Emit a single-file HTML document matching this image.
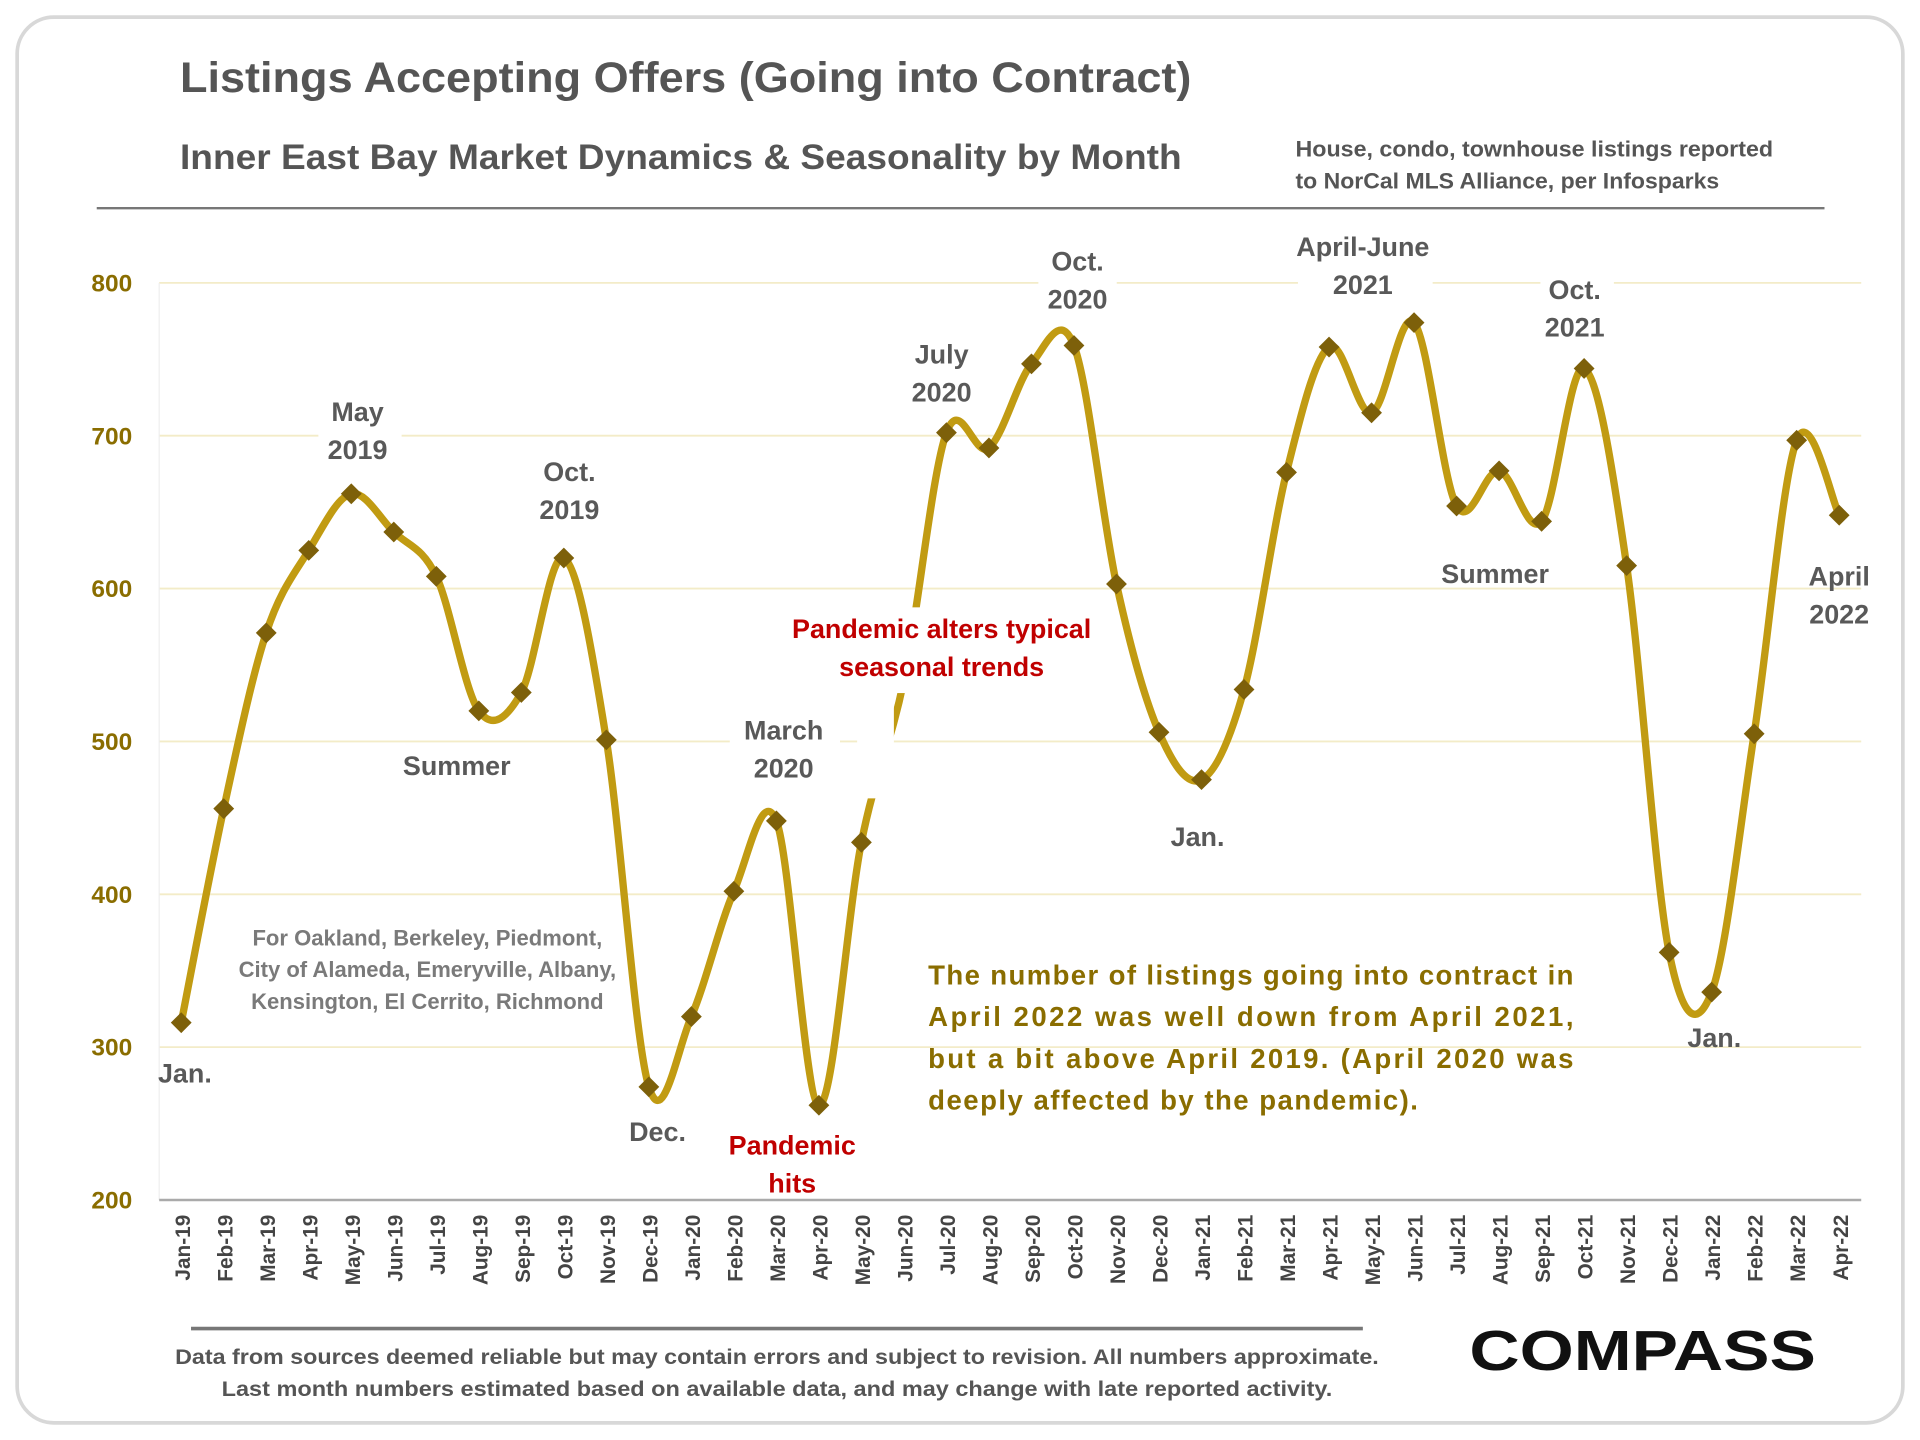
<!DOCTYPE html>
<html><head><meta charset="utf-8"><style>
html,body{margin:0;padding:0;background:#fff}
svg{display:block}
text{font-family:"Liberation Sans",sans-serif;font-weight:bold}
</style></head><body>
<svg id="chart" width="1920" height="1440" viewBox="0 0 1568 1176">
<rect x="14" y="14" width="1540" height="1148" rx="30" fill="#fff" stroke="#d8d8d8" stroke-width="3"/>
<text x="147" y="75" font-size="35" fill="#555" textLength="826" lengthAdjust="spacingAndGlyphs">Listings Accepting Offers (Going into Contract)</text>
<text x="147" y="138" font-size="29" fill="#555" textLength="818" lengthAdjust="spacingAndGlyphs">Inner East Bay Market Dynamics &amp; Seasonality by Month</text>
<text x="1058" y="128" font-size="18" fill="#555"><tspan x="1058" textLength="390" lengthAdjust="spacingAndGlyphs">House, condo, townhouse listings reported</tspan><tspan x="1058" dy="26" textLength="346" lengthAdjust="spacingAndGlyphs">to NorCal MLS Alliance, per Infosparks</tspan></text>
<line x1="79" y1="170" x2="1490" y2="170" stroke="#777" stroke-width="2"/>
<g id="grid"></g>
<g id="yticks"></g>
<g id="xticks"></g>
<line x1="130" y1="980" x2="1520" y2="980" stroke="#aaa" stroke-width="2"/>
<path id="series-line" fill="none" stroke="#c19b12" stroke-width="6"/>
<g id="markers"></g>
<g id="labels" font-size="22" fill="#595959" text-anchor="middle">
<rect x="260" y="318" width="68" height="66" fill="#fff"/>
<text x="292" y="344"><tspan x="292">May</tspan><tspan x="292" dy="31">2019</tspan></text>
<text x="465" y="393"><tspan x="465">Oct.</tspan><tspan x="465" dy="31">2019</tspan></text>
<text x="373" y="633">Summer</text>
<text x="151" y="884">Jan.</text>
<text x="537" y="932">Dec.</text>
<rect x="596" y="580" width="90" height="68" fill="#fff"/>
<text x="640" y="604"><tspan x="640">March</tspan><tspan x="640" dy="31">2020</tspan></text>
<text x="647" y="943" fill="#c00000"><tspan x="647">Pandemic</tspan><tspan x="647" dy="31">hits</tspan></text>
<rect x="640" y="496" width="258" height="70" fill="#fff"/>
<rect x="700" y="566" width="30" height="86" fill="#fff"/>
<text x="769" y="521" fill="#c00000"><tspan x="769">Pandemic alters typical</tspan><tspan x="769" dy="31">seasonal trends</tspan></text>
<rect x="740" y="270" width="60" height="70" fill="#fff"/>
<text x="769" y="297"><tspan x="769">July</tspan><tspan x="769" dy="31">2020</tspan></text>
<rect x="848" y="196" width="64" height="68" fill="#fff"/>
<text x="880" y="221"><tspan x="880">Oct.</tspan><tspan x="880" dy="31">2020</tspan></text>
<text x="978" y="691">Jan.</text>
<rect x="1060" y="186" width="110" height="62" fill="#fff"/>
<text x="1113" y="209"><tspan x="1113">April-June</tspan><tspan x="1113" dy="31">2021</tspan></text>
<rect x="1258" y="222" width="60" height="62" fill="#fff"/>
<text x="1286" y="244"><tspan x="1286">Oct.</tspan><tspan x="1286" dy="31">2021</tspan></text>
<text x="1221" y="476">Summer</text>
<text x="1400" y="855">Jan.</text>
<text x="1502" y="478"><tspan x="1502">April</tspan><tspan x="1502" dy="31">2022</tspan></text>
</g>
<text font-size="18" fill="#7a7a7a" text-anchor="middle"><tspan x="349" y="772">For Oakland, Berkeley, Piedmont,</tspan><tspan x="349" dy="26">City of Alameda, Emeryville, Albany,</tspan><tspan x="349" dy="26">Kensington, El Cerrito, Richmond</tspan></text>
<text font-size="22.5" fill="#8a6d00"><tspan x="758" y="804" textLength="527">The number of listings going into contract in</tspan><tspan x="758" y="838" textLength="527">April 2022 was well down from April 2021,</tspan><tspan x="758" y="872" textLength="527">but a bit above April 2019. (April 2020 was</tspan><tspan x="758" y="906" textLength="400">deeply affected by the pandemic).</tspan></text>
<line x1="156" y1="1085" x2="1113" y2="1085" stroke="#777" stroke-width="3"/>
<text font-size="17" fill="#555"><tspan x="143" y="1114" textLength="983" lengthAdjust="spacingAndGlyphs">Data from sources deemed reliable but may contain errors and subject to revision. All numbers approximate.</tspan><tspan x="181" y="1140" textLength="907" lengthAdjust="spacingAndGlyphs">Last month numbers estimated based on available data, and may change with late reported activity.</tspan></text>
<text x="1200" y="1119" font-size="46" fill="#111" font-weight="normal" textLength="283" lengthAdjust="spacingAndGlyphs">COMPASS</text>
</svg>
<script>
const months = ["Jan-19","Feb-19","Mar-19","Apr-19","May-19","Jun-19","Jul-19","Aug-19","Sep-19","Oct-19","Nov-19","Dec-19","Jan-20","Feb-20","Mar-20","Apr-20","May-20","Jun-20","Jul-20","Aug-20","Sep-20","Oct-20","Nov-20","Dec-20","Jan-21","Feb-21","Mar-21","Apr-21","May-21","Jun-21","Jul-21","Aug-21","Sep-21","Oct-21","Nov-21","Dec-21","Jan-22","Feb-22","Mar-22","Apr-22"];
const listings = [316,456,571,625,662,637,608,520,532,620,501,274,320,402,448,262,434,540,702,692,747,759,603,506,475,534,676,758,715,774,654,677,644,744,615,362,336,505,697,648];
const yTicks = [200,300,400,500,600,700,800];
const NS="http://www.w3.org/2000/svg";
const x0=148,x1=1502,yTop=231,yBot=980,vMin=200,vMax=800;
function xs(i){return x0+(x1-x0)*i/(months.length-1);}
function ys(v){return yBot-(v-vMin)/(vMax-vMin)*(yBot-yTop);}
const grid=document.getElementById('grid'),yt=document.getElementById('yticks'),xt=document.getElementById('xticks');
yTicks.forEach(v=>{
  if(v>vMin){const l=document.createElementNS(NS,'line');
  l.setAttribute('x1',130);l.setAttribute('x2',1520);l.setAttribute('y1',ys(v));l.setAttribute('y2',ys(v));
  l.setAttribute('stroke','#f3ecc8');l.setAttribute('stroke-width','1.5');
  
  
  grid.appendChild(l);}
  const t=document.createElementNS(NS,'text');
  t.setAttribute('x',108);t.setAttribute('y',ys(v)+7);t.setAttribute('text-anchor','end');
  t.setAttribute('font-size','20');t.setAttribute('fill','#8a6d00');t.textContent=v;
  
  
  yt.appendChild(t);
});
const al=document.createElementNS(NS,'line');
al.setAttribute('x1',130);al.setAttribute('x2',130);al.setAttribute('y1',231);al.setAttribute('y2',980);
al.setAttribute('stroke','#eee');


grid.appendChild(al);
months.forEach((m,i)=>{
  const t=document.createElementNS(NS,'text');
  const x=xs(i)+7,y=992;
  t.setAttribute('transform','translate('+x+','+y+') rotate(-90)');
  t.setAttribute('text-anchor','end');t.setAttribute('font-size','17');t.setAttribute('fill','#444');
  t.textContent=m;
  
  
  xt.appendChild(t);
});
const pts=listings.map((v,i)=>[xs(i),ys(v)]);
let d='M'+pts[0][0]+','+pts[0][1];
for(let i=0;i<pts.length-1;i++){
  const p0=pts[i-1]||pts[i],p1=pts[i],p2=pts[i+1],p3=pts[i+2]||p2;
  const c1=[p1[0]+(p2[0]-p0[0])/6,p1[1]+(p2[1]-p0[1])/6];
  const c2=[p2[0]-(p3[0]-p1[0])/6,p2[1]-(p3[1]-p1[1])/6];
  d+=' C'+c1+' '+c2+' '+p2;
}
document.getElementById('series-line').setAttribute('d',d);
const mk=document.getElementById('markers');
pts.forEach((p,i)=>{
  if(months[i]==="Jun-20")return;
  const r=8.5;
  const pg=document.createElementNS(NS,'polygon');
  pg.setAttribute('points',[p[0],p[1]-r,p[0]+r,p[1],p[0],p[1]+r,p[0]-r,p[1]].join(' '));
  pg.setAttribute('fill','#7d600a');
  
  
  mk.appendChild(pg);
});
const svg=document.getElementById('chart');
svg.appendChild(document.getElementById('labels'));
</script>
</body></html>
